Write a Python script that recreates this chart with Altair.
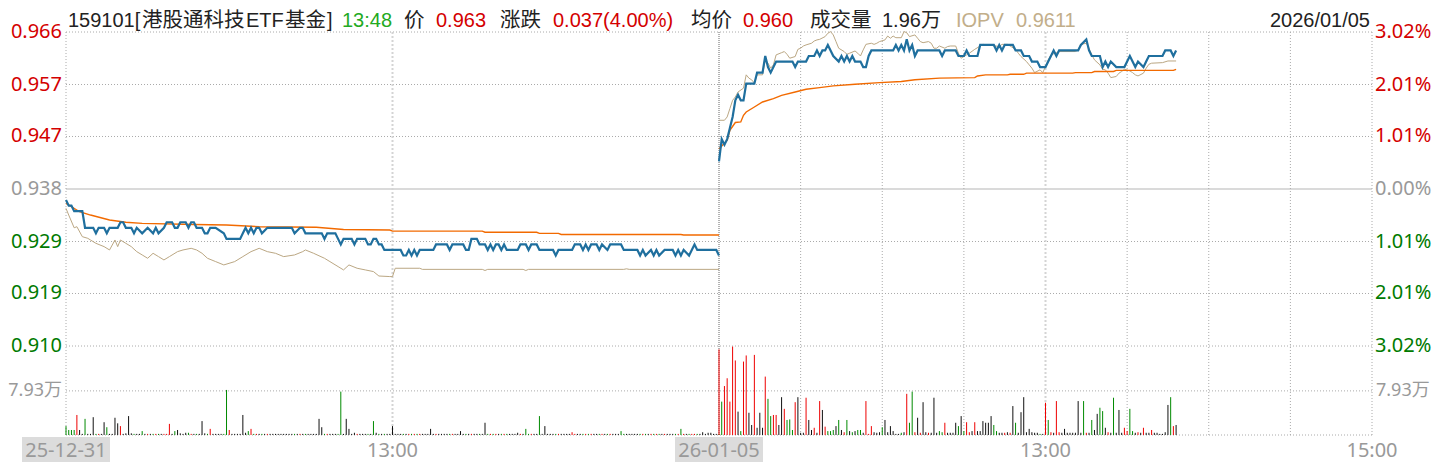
import altair as alt
import pandas as pd

# ---------------- values ----------------
prev_close = 0.938
pct_ticks = [3.02, 2.01, 1.01, 0.00, -1.01, -2.01, -3.02]
vol_tick = 7.93          # 万
vol_max = 16.0           # 万, top of the volume panel

# day 1 (2025-12-31): minute index 0..240, price
d1_price = [(0,0.936),(1,0.935),(2,0.935),(3,0.934),(6,0.934),(7,0.931),(10,0.931),(11,0.930),(12,0.931),
    (14,0.931),(15,0.930),(16,0.931),(19,0.931),(20,0.932),(21,0.932),(22,0.931),(24,0.931),(25,0.930),
    (26,0.931),(28,0.930),(30,0.931),(32,0.930),(33,0.931),(34,0.930),(36,0.931),(37,0.932),(39,0.932),
    (40,0.931),(41,0.931),(42,0.932),(44,0.932),(45,0.931),(46,0.932),(47,0.932),(48,0.931),(50,0.931),
    (51,0.930),(52,0.930),(53,0.931),(55,0.931),(58,0.930),(59,0.929),(64,0.929),(65,0.930),(66,0.931),
    (67,0.930),(68,0.931),(69,0.930),(70,0.931),(71,0.931),(72,0.930),(74,0.931),(83,0.931),(84,0.930),
    (86,0.931),(87,0.931),(88,0.930),(94,0.930),(95,0.929),(96,0.930),(99,0.930),(100,0.929),(101,0.928),
    (102,0.929),(105,0.929),(106,0.928),(107,0.929),(110,0.929),(111,0.928),(112,0.928),(113,0.929),
    (114,0.929),(115,0.928),(116,0.928),(117,0.927),(123,0.927),(124,0.926),(125,0.926),(126,0.927),
    (127,0.926),(128,0.927),(129,0.926),(130,0.927),(135,0.927),(136,0.928),(140,0.928),(141,0.927),
    (142,0.928),(146,0.928),(147,0.927),(148,0.927),(149,0.929),(151,0.929),(152,0.928),(154,0.928),
    (155,0.927),(156,0.928),(157,0.927),(158,0.928),(159,0.928),(160,0.927),(161,0.928),(162,0.927),
    (166,0.927),(167,0.928),(169,0.928),(170,0.927),(171,0.928),(173,0.928),(174,0.927),(179,0.927),
    (180,0.926),(181,0.927),(186,0.927),(187,0.928),(189,0.928),(190,0.927),(191,0.928),(192,0.927),
    (193,0.928),(195,0.928),(196,0.927),(197,0.928),(199,0.927),(200,0.928),(204,0.928),(205,0.927),
    (210,0.927),(211,0.926),(212,0.927),(213,0.926),(215,0.927),(216,0.926),(217,0.927),(218,0.926),
    (220,0.927),(223,0.927),(224,0.926),(225,0.927),(226,0.926),(227,0.927),(229,0.926),(230,0.927),
    (231,0.928),(232,0.927),(239,0.927),(240,0.926)]
d1_avg = [(0,0.9354),(5,0.9339),(9,0.9333),(16,0.9324),(22,0.9320),(28,0.9318),(47,0.9316),(59,0.9315),
    (71,0.9312),(92,0.9311),(102,0.9307),(119,0.9306),(120,0.9304),(153,0.9304),(154,0.9302),(173,0.9302),
    (174,0.9300),(181,0.9300),(182,0.9298),(226,0.9298),(227,0.9297),(240,0.9297)]
d1_iopv = [(0,0.9345),(1,0.9333),(3,0.9310),(4,0.9312),(6,0.9294),(8,0.9291),(9,0.9288),(11,0.9282),
    (14,0.9276),(16,0.9270),(18,0.9288),(19,0.9276),(20,0.9288),(22,0.9282),(24,0.9276),(26,0.9267),
    (28,0.9261),(30,0.9255),(32,0.9264),(34,0.9258),(36,0.9252),(38,0.9258),(41,0.9267),(43,0.9270),
    (46,0.9273),(48,0.9270),(50,0.9264),(52,0.9255),(55,0.9249),(58,0.9243),(62,0.9249),(65,0.9258),
    (68,0.9267),(71,0.9273),(74,0.9267),(77,0.9264),(80,0.9258),(84,0.9261),(87,0.9267),(88,0.9270),
    (91,0.9264),(95,0.9255),(97,0.9249),(100,0.9240),(102,0.9234),(104,0.9243),(107,0.9237),(110,0.9234),
    (113,0.9231),(115,0.9223),(119,0.9222),(120,0.9222),(121,0.9237),(130,0.9237),(131,0.9235),
    (153,0.9235),(154,0.9233),(155,0.9235),(168,0.9235),(169,0.9233),(170,0.9235),(205,0.9235),
    (206,0.9236),(207,0.9235),(240,0.9235)]

# day 2 (2026-01-05): minute index 0..168 (13:48)
d2_price = [(0,0.943),(1,0.947),(2,0.946),(3,0.947),(4,0.949),(5,0.951),(6,0.954),(7,0.955),(8,0.954),
    (9,0.954),(10,0.957),(13,0.957),(14,0.959),(16,0.959),(17,0.962),(18,0.960),(19,0.959),(20,0.960),
    (21,0.961),(27,0.961),(28,0.960),(29,0.961),(32,0.961),(33,0.962),(35,0.962),(36,0.963),(37,0.962),
    (38,0.963),(39,0.963),(40,0.964),(41,0.963),(42,0.962),(44,0.961),(45,0.962),(46,0.961),(47,0.962),
    (48,0.961),(49,0.962),(50,0.961),(52,0.961),(53,0.960),(54,0.960),(55,0.962),(56,0.963),(64,0.963),
    (65,0.964),(66,0.963),(67,0.964),(68,0.963),(69,0.965),(70,0.963),(71,0.964),(72,0.962),(73,0.963),
    (81,0.963),(82,0.962),(83,0.963),(87,0.963),(88,0.962),(90,0.962),(91,0.963),(92,0.962),(95,0.962),
    (96,0.964),(101,0.964),(102,0.963),(103,0.964),(104,0.963),(105,0.964),(108,0.964),(109,0.963),
    (111,0.963),(112,0.962),(114,0.962),(115,0.961),(117,0.961),(118,0.960),(120,0.960),(121,0.961),
    (122,0.962),(123,0.963),(124,0.962),(125,0.963),(132,0.963),(133,0.964),(135,0.965),(136,0.963),
    (137,0.962),(140,0.962),(141,0.960),(142,0.961),(143,0.960),(144,0.961),(146,0.960),(149,0.960),
    (150,0.961),(151,0.962),(152,0.961),(153,0.960),(154,0.961),(156,0.960),(157,0.961),(158,0.962),
    (163,0.962),(164,0.963),(166,0.963),(167,0.962),(168,0.963)]
d2_avg = [(0,0.9452),(3,0.9468),(4,0.9486),(6,0.9500),(8,0.9501),(9,0.9513),(10,0.9519),(13,0.9528),
    (16,0.9537),(20,0.9543),(23,0.9549),(28,0.9555),(32,0.9560),(37,0.9563),(42,0.9566),(50,0.9569),
    (59,0.9572),(67,0.9574),(72,0.9577),(81,0.9580),(94,0.9581),(95,0.9584),(98,0.9586),(106,0.9586),
    (107,0.9587),(112,0.9587),(113,0.9589),(130,0.9589),(131,0.9590),(137,0.9590),(138,0.9592),
    (145,0.9592),(146,0.9594),(167,0.9594),(168,0.9596)]
d2_iopv = [(0,0.9504),(2,0.9504),(3,0.9510),(4,0.9525),(5,0.9540),(6,0.9546),(7,0.9555),(9,0.9562),
    (10,0.9586),(11,0.9580),(12,0.9577),(13,0.9571),(14,0.9586),(16,0.9586),(17,0.9613),(18,0.9607),
    (19,0.9598),(20,0.9604),(21,0.9622),(23,0.9626),(24,0.9628),(25,0.9623),(26,0.9616),(28,0.9619),
    (29,0.9632),(30,0.9634),(31,0.9638),(32,0.9640),(34,0.9643),(35,0.9647),(36,0.9649),(37,0.9650),
    (39,0.9655),(40,0.9661),(41,0.9664),(42,0.9658),(43,0.9646),(44,0.9634),(46,0.9628),(47,0.9623),
    (48,0.9625),(50,0.9629),(51,0.9625),(52,0.9620),(53,0.9631),(54,0.9641),(56,0.9643),(57,0.9641),
    (58,0.9643),(59,0.9646),(61,0.9649),(62,0.9656),(63,0.9652),(64,0.9656),(65,0.9653),(67,0.9653),
    (68,0.9664),(69,0.9662),(70,0.9655),(72,0.9658),(73,0.9652),(74,0.9646),(75,0.9644),(77,0.9646),
    (78,0.9643),(79,0.9634),(80,0.9634),(81,0.9638),(83,0.9634),(84,0.9637),(85,0.9638),(87,0.9638),
    (88,0.9625),(89,0.9616),(91,0.9622),(92,0.9625),(94,0.9632),(97,0.9641),(99,0.9640),(103,0.9637),
    (104,0.9641),(106,0.9641),(109,0.9632),(110,0.9625),(111,0.9619),(113,0.9610),(114,0.9604),
    (115,0.9598),(116,0.9590),(118,0.9595),(119,0.9590),(120,0.9601),(121,0.9613),(122,0.9622),
    (124,0.9626),(125,0.9628),(131,0.9628),(132,0.9631),(133,0.9641),(135,0.9643),(136,0.9634),
    (137,0.9622),(138,0.9613),(140,0.9604),(141,0.9596),(142,0.9595),(143,0.9589),(144,0.9581),
    (146,0.9583),(147,0.9589),(148,0.9592),(149,0.9596),(151,0.9593),(152,0.9590),(153,0.9586),
    (154,0.9584),(156,0.9589),(157,0.9598),(158,0.9605),(159,0.9607),(163,0.9608),(165,0.9611),
    (168,0.9611)]

# volume bars (万): minute, volume, direction (r up / g down / k flat)
d1_vol = [(0,1.6,'g'),(1,0.9,'g'),(2,0.9,'g'),(3,0.9,'g'),(4,3.6,'r'),(5,0.9,'k'),(7,2.9,'g'),(9,0.2,'k'),
    (10,3.2,'k'),(12,0.2,'r'),(13,0.2,'k'),(14,2.3,'k'),(15,1.4,'g'),(16,0.2,'k'),(18,3.1,'k'),(19,2.1,'k'),
    (20,1.6,'r'),(22,0.3,'k'),(23,3.4,'k'),(24,0.3,'k'),(26,0.2,'k'),(28,0.7,'g'),(36,0.2,'r'),(38,2.0,'r'),
    (40,0.7,'g'),(41,0.9,'k'),(42,0.3,'k'),(44,0.4,'k'),(45,0.4,'g'),(50,2.5,'k'),(51,0.3,'k'),(52,0.2,'g'),
    (53,1.1,'r'),(59,8.1,'g'),(60,0.9,'r'),(65,3.6,'k'),(66,0.4,'k'),(67,0.7,'g'),(68,1.1,'r'),(93,2.9,'k'),
    (94,1.4,'k'),(101,7.8,'g'),(102,0.2,'k'),(103,2.9,'k'),(104,1.1,'k'),(106,0.4,'k'),(113,2.5,'g'),
    (114,0.4,'k'),(120,1.6,'k'),(134,1.1,'k'),(145,0.7,'k'),(154,2.2,'k'),(166,0.4,'k'),(169,1.1,'g'),
    (171,0.2,'r'),(172,0.2,'k'),(174,3.4,'g'),(176,1.6,'k'),(186,0.5,'r'),(204,0.7,'g'),(226,1.1,'g'),
    (234,0.5,'k'),(236,0.4,'k'),(237,0.4,'k')]
d2_vol = [(0,15.4,'r'),(1,6.0,'g'),(2,8.8,'r'),(3,10.2,'r'),(4,6.0,'r'),(5,15.9,'r'),(6,13.4,'r'),(7,4.2,'k'),
    (8,0.7,'g'),(9,13.2,'r'),(10,14.3,'r'),(11,4.0,'k'),(12,1.8,'k'),(13,14.4,'r'),(14,1.3,'k'),(15,4.0,'k'),
    (16,1.3,'k'),(17,10.5,'r'),(18,6.5,'g'),(19,3.4,'g'),(20,3.6,'r'),(21,3.6,'r'),(22,1.8,'k'),(23,6.8,'k'),
    (24,4.7,'r'),(25,2.7,'g'),(26,2.8,'g'),(27,0.9,'g'),(28,5.9,'r'),(29,6.8,'k'),(30,0.4,'k'),(31,0.4,'k'),
    (32,6.7,'r'),(33,2.7,'k'),(34,0.9,'k'),(35,1.3,'r'),(36,0.4,'k'),(37,6.1,'r'),(38,4.5,'k'),(39,1.5,'r'),
    (40,0.7,'g'),(41,0.7,'g'),(42,0.9,'g'),(43,1.6,'k'),(44,2.7,'g'),(45,0.9,'k'),(46,0.5,'r'),(47,2.7,'g'),
    (48,0.7,'k'),(49,0.5,'g'),(50,0.7,'k'),(51,0.9,'g'),(52,0.9,'g'),(53,0.4,'k'),(54,6.1,'r'),(56,1.6,'r'),
    (57,0.5,'k'),(58,0.4,'k'),(59,0.5,'k'),(60,1.4,'g'),(61,2.7,'k'),(62,0.5,'k'),(63,1.6,'k'),(64,0.7,'k'),
    (65,0.2,'k'),(66,0.2,'k'),(67,0.4,'g'),(68,0.5,'k'),(69,7.4,'r'),(70,2.2,'g'),(71,7.8,'g'),(72,0.5,'r'),
    (73,3.1,'k'),(74,0.4,'r'),(75,5.9,'k'),(76,0.5,'k'),(77,0.4,'r'),(78,0.4,'k'),(79,6.7,'k'),(80,0.4,'k'),
    (81,0.7,'g'),(82,0.5,'g'),(83,2.2,'r'),(84,0.4,'k'),(85,0.4,'k'),(86,0.4,'k'),(87,2.2,'k'),(88,1.6,'g'),
    (89,3.4,'k'),(90,0.7,'g'),(91,2.3,'r'),(92,0.5,'r'),(93,0.7,'k'),(94,2.3,'r'),(95,0.7,'k'),(96,0.7,'k'),
    (97,2.5,'k'),(98,2.2,'k'),(99,2.2,'k'),(100,3.4,'k'),(101,1.8,'g'),(102,0.7,'g'),(103,0.4,'k'),
    (104,0.4,'k'),(105,0.4,'r'),(106,0.5,'k'),(107,0.4,'r'),(108,5.2,'k'),(109,2.2,'g'),(110,0.4,'k'),
    (111,4.1,'k'),(112,6.8,'k'),(113,0.5,'k'),(114,1.1,'k'),(115,0.5,'k'),(116,0.4,'k'),(117,0.4,'k'),
    (120,5.8,'r'),(121,2.7,'g'),(122,0.5,'r'),(123,0.4,'k'),(124,6.1,'r'),(125,0.5,'r'),(126,0.4,'k'),
    (127,1.1,'k'),(128,0.4,'k'),(129,0.4,'k'),(130,0.4,'k'),(131,0.4,'k'),(132,6.1,'k'),(133,0.4,'k'),
    (134,6.1,'g'),(135,0.4,'r'),(136,0.4,'k'),(137,2.7,'g'),(138,0.9,'k'),(139,3.8,'k'),(140,4.9,'g'),
    (141,4.3,'g'),(142,1.3,'k'),(143,0.5,'r'),(144,0.4,'k'),(145,6.7,'g'),(146,0.4,'k'),(147,4.5,'k'),
    (148,0.4,'k'),(149,1.3,'r'),(150,0.7,'r'),(151,4.7,'g'),(152,0.7,'g'),(153,0.4,'k'),(154,0.5,'r'),
    (155,0.4,'k'),(156,1.3,'r'),(157,0.4,'k'),(158,0.4,'k'),(159,0.9,'r'),(160,0.4,'k'),(161,0.4,'k'),
    (162,0.2,'k'),(163,0.2,'k'),(164,0.5,'k'),(165,5.4,'k'),(166,6.8,'g'),(167,1.6,'r'),(168,1.8,'k')]
baseline_vol = 0.2   # the ~1px bars drawn at the other minutes

header = [("159101[", "dark"), ("港股通科技", "dark"), ("ETF", "dark"), ("基金", "dark"), ("]", "dark"),
          ("13:48", "time"), ("价", "dark"), ("0.963", "up"), ("涨跌", "dark"), ("0.037(4.00%)", "up"),
          ("均价", "dark"), ("0.960", "up"), ("成交量", "dark"), ("1.96万", "dark"),
          ("IOPV", "iopv"), ("0.9611", "iopv")]
header_date = "2026/01/05"
x_labels = [(0, "25-12-31", True), (120, "13:00", False), (240, "26-01-05", True),
            (360, "13:00", False), (480, "15:00", False)]

# ---------------- styles / layout ----------------
W, H = 1306, 403          # plot area (page x 66..1372, y 32..435)
PRICE_H = 314
FONT = "Noto Sans, Noto Sans CJK SC"
HDR_FONT = "Liberation Sans, Noto Sans CJK SC"   # compact line metrics so the header stays inside
FS = 20
FS_CJK = 20.5
HDR_Y = -11
C = {"up": "#d40000", "down": "#007a00", "flat": "#999999", "dark": "#222222", "time": "#22aa22",
     "iopv": "#c2ae8a", "blue": "#1f6f9e", "orange": "#f26a00", "tan": "#bba783",
     "bar_r": "#ee0000", "bar_g": "#008a00", "bar_k": "#111111"}
header_x = [2, 76, 180, 219, 261, 276, 338, 370, 434, 487, 625, 677, 744, 816, 890, 950]

tick_prices = [prev_close * (1 + p / 100) for p in pct_ticks]
x_scale = alt.Scale(domain=[0, 480], nice=False, zero=False)
p_scale = alt.Scale(domain=[min(tick_prices), max(tick_prices)], range=[PRICE_H, 0], nice=False, zero=False)
v_scale = alt.Scale(domain=[0, vol_max], range=[H, PRICE_H], nice=False, zero=False)

X = alt.X("slot:Q", scale=x_scale, axis=None)


def per_minute(pairs, last):
    out, j = [], 0
    for m in range(last + 1):
        while j + 1 < len(pairs) and pairs[j + 1][0] <= m:
            j += 1
        out.append(pairs[j][1])
    return out


def line_df(pairs, day):
    off = 0 if day == 1 else 240
    return pd.DataFrame({"slot": [t + off for t, _ in pairs], "price": [v for _, v in pairs], "day": day})


def series(p1, p2, color, width):
    df = pd.concat([line_df(p1, 1), line_df(p2, 2)])
    return alt.Chart(df).mark_line(color=color, strokeWidth=width, interpolate="linear").encode(
        x=X, y=alt.Y("price:Q", scale=p_scale, axis=None), detail="day:N")


# volume table
rows = []
for day, vols, prices, last in [(1, d1_vol, d1_price, 240), (2, d2_vol, d2_price, 168)]:
    off = 0 if day == 1 else 240
    known = {m: (v, d) for m, v, d in vols}
    pm = per_minute(prices, last)
    for m in range(last + 1):
        if m in known:
            v, d = known[m]
        else:
            v = baseline_vol
            d = "k" if m == 0 or pm[m] == pm[m - 1] else ("r" if pm[m] > pm[m - 1] else "g")
        rows.append({"slot": m + off, "vol": v, "col": C["bar_" + d]})
vol_df = pd.DataFrame(rows)

vol_bars = alt.Chart(vol_df).mark_rule(strokeWidth=1).encode(
    x=X, y=alt.Y("vol:Q", scale=v_scale, axis=None), y2=alt.datum(0),
    color=alt.Color("col:N", scale=None))

# grid lines
grid_h = pd.DataFrame({"price": [p for p, q in zip(tick_prices, pct_ticks) if q != 0]})
center = pd.DataFrame({"price": [prev_close]})
h_grid = alt.Chart(grid_h).mark_rule(color="#aaaaaa", strokeWidth=1, strokeDash=[1, 2]).encode(
    y=alt.Y("price:Q", scale=p_scale, axis=None), x=alt.value(0), x2=alt.value(W))
h_center = alt.Chart(center).mark_rule(color="#dadada", strokeWidth=2).encode(
    y=alt.Y("price:Q", scale=p_scale, axis=None), x=alt.value(0), x2=alt.value(W))
v_grid_vol = alt.Chart(pd.DataFrame({"vol": [vol_tick, 0]})).mark_rule(
    color="#aaaaaa", strokeWidth=1, strokeDash=[1, 2]).encode(
    y=alt.Y("vol:Q", scale=v_scale, axis=None), x=alt.value(0), x2=alt.value(W))

def vlines(slots, color, width, dash):
    return alt.Chart(pd.DataFrame({"slot": slots})).mark_rule(
        color=color, strokeWidth=width, strokeDash=dash).encode(x=X, y=alt.value(0), y2=alt.value(H))

vg_border = vlines([0, 480], "#aaaaaa", 1, [1, 2])
vg_half = vlines([270, 300, 330, 390, 420, 450], "#aaaaaa", 1, [1, 2])
vg_noon = vlines([120, 360], "#d4d4d4", 2, [2, 2])
vg_day = vlines([240], "#666666", 1, [1, 1])

# axis labels
def lab_col(q):
    return C["up"] if q > 0 else (C["down"] if q < 0 else C["flat"])

plab = pd.DataFrame({"price": tick_prices,
                     "left": [f"{p:.3f}" for p in tick_prices],
                     "right": [f"{abs(q):.2f}%" for q in pct_ticks],
                     "col": [lab_col(q) for q in pct_ticks]})
left_lab = alt.Chart(plab).mark_text(align="right", baseline="middle", font=FONT, fontSize=FS).encode(
    y=alt.Y("price:Q", scale=p_scale, axis=None), x=alt.value(-4), text="left:N",
    color=alt.Color("col:N", scale=None))
right_lab = alt.Chart(plab).mark_text(align="left", baseline="middle", font=FONT, fontSize=FS).encode(
    y=alt.Y("price:Q", scale=p_scale, axis=None), x=alt.value(W + 3), text="right:N",
    color=alt.Color("col:N", scale=None))
vlab = pd.DataFrame({"vol": [vol_tick], "t": [f"{vol_tick:.2f}万"]})
vol_lab_l = alt.Chart(vlab).mark_text(align="right", baseline="middle", font=FONT, fontSize=18,
                                      color=C["flat"]).encode(
    y=alt.Y("vol:Q", scale=v_scale, axis=None), x=alt.value(-4), text="t:N")
vol_lab_r = alt.Chart(vlab).mark_text(align="left", baseline="middle", font=FONT, fontSize=18,
                                      color=C["flat"]).encode(
    y=alt.Y("vol:Q", scale=v_scale, axis=None), x=alt.value(W + 4), text="t:N")

xl = pd.DataFrame({"slot": [s for s, _, _ in x_labels], "t": [t for _, t, _ in x_labels],
                   "box": [b for _, _, b in x_labels]})
box_path = "M-1,-0.284L1,-0.284L1,0.284L-1,0.284Z"
x_boxes = alt.Chart(xl).transform_filter("datum.box").mark_point(
    shape=box_path, size=88 * 88, filled=True, opacity=1, color="#dcdcdc", strokeWidth=0).encode(
    x=X, y=alt.value(H + 14.5))
x_text = alt.Chart(xl).mark_text(baseline="middle", font=FONT, fontSize=FS, color=C["flat"]).encode(
    x=X, y=alt.value(H + 16), text="t:N")

# header
def is_cjk(s):
    return all("\u4e00" <= ch <= "\u9fff" for ch in s)

hdr_layers = []
for (txt, kind), hx in zip(header, header_x):
    hdr_layers.append(alt.Chart(pd.DataFrame({"t": [txt]})).mark_text(
        align="left", baseline="middle", font=HDR_FONT, fontSize=FS_CJK if is_cjk(txt) else FS,
        color=C[kind]).encode(x=alt.value(hx), y=alt.value(HDR_Y), text="t:N"))
hdr_layers.append(alt.Chart(pd.DataFrame({"t": [header_date]})).mark_text(
    align="right", baseline="middle", font=HDR_FONT, fontSize=FS, color=C["dark"]).encode(
    x=alt.value(W - 2), y=alt.value(HDR_Y), text="t:N"))

# total svg width 58 + 1306 + 60 = 1424 = page width minus both 8px margins
chart = alt.layer(
    h_center, h_grid, v_grid_vol, vg_border, vg_half, vg_noon, vg_day,
    vol_bars,
    series(d1_iopv, d2_iopv, C["tan"], 1),
    series(d1_avg, d2_avg, C["orange"], 1.4),
    series(d1_price, d2_price, C["blue"], 2.2),
    left_lab, right_lab, vol_lab_l, vol_lab_r, x_boxes, x_text, *hdr_layers
).resolve_scale(y="independent").properties(
    width=W, height=H,
    autosize=alt.AutoSizeParams(type="none"),
    padding={"left": 58, "top": 24, "right": 60, "bottom": 27},
    background="white",
).configure_view(strokeWidth=0)

chart.save("out.html", embed_options={"renderer": "svg", "actions": False})
